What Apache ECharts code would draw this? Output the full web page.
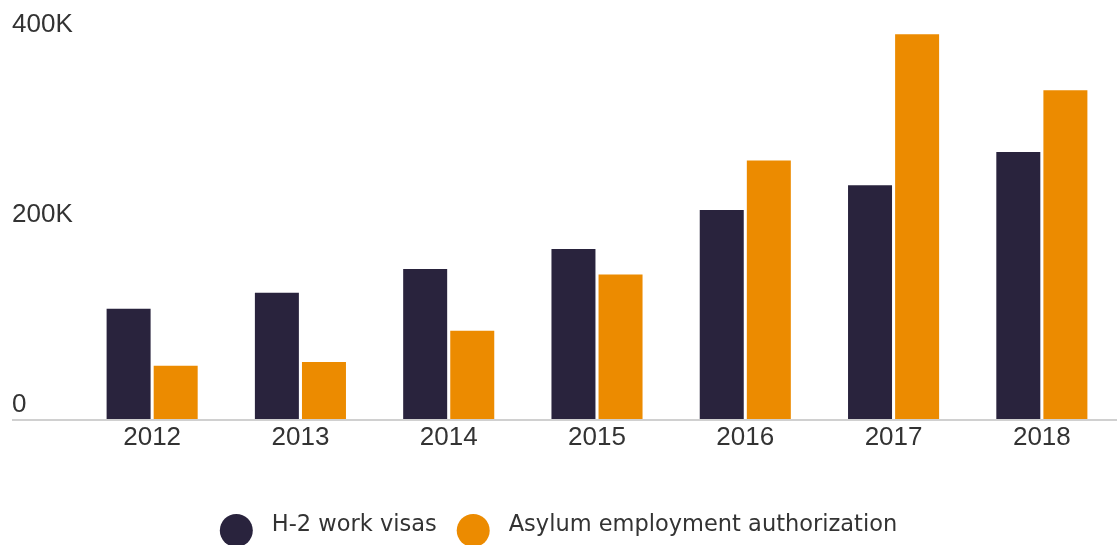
<!DOCTYPE html>
<html>
<head>
<meta charset="utf-8">
<script src="https://cdn.jsdelivr.net/npm/echarts@6/dist/echarts.min.js"></script>
<style>
html,body{margin:0;padding:0;background:#fff;}
#chart{width:1117px;height:545px;}
</style>
</head>
<body>
<div id="chart"></div>
<script>
var categories = ['2012', '2013', '2014', '2015', '2016', '2017', '2018'];
var h2WorkVisas = [116000, 133000, 158000, 179000, 220000, 246000, 281000];
var asylumEmployment = [56000, 60000, 93000, 152000, 272000, 405000, 346000];
var seriesNames = ['H-2 work visas', 'Asylum employment authorization'];

function fmtK(v) { return v === 0 ? '0' : (v / 1000) + 'K'; }

var chart = echarts.init(document.getElementById('chart'), null, { renderer: 'canvas' });
var option = {
  animation: false,
  backgroundColor: '#ffffff',
  grid: { left: 78, right: 1, top: 20, bottom: 126 },
  legend: {
    left: 'center',
    top: 509,
    icon: 'circle',
    itemWidth: 33,
    itemHeight: 33,
    itemGap: 20,
    formatter: '{a|{name}}',
    textStyle: {
      fontFamily: 'DejaVu Sans', fontSize: 22.5, color: '#333333', padding: [0, 0, 0, 14],
      rich: { a: { fontFamily: 'DejaVu Sans', fontSize: 22.5, color: '#333333', padding: [0, 0, 10, 0] } }
    },
    data: seriesNames
  },
  xAxis: {
    type: 'category',
    data: categories,
    axisLine: { show: false },
    axisTick: { show: false },
    axisLabel: { fontFamily: 'Liberation Sans', fontSize: 26, color: '#333333', margin: 6 }
  },
  yAxis: {
    type: 'value',
    min: 0,
    max: 420000,
    interval: 200000,
    splitLine: { show: false },
    axisLine: { show: false },
    axisTick: { show: false },
    axisLabel: {
      showMaxLabel: false,
      fontFamily: 'Liberation Sans', fontSize: 26, color: '#333333',
      align: 'left', margin: 66, verticalAlign: 'bottom', padding: [0, 0, 1, 0],
      formatter: fmtK
    }
  },
  series: [
    { name: seriesNames[0], type: 'bar', data: h2WorkVisas, barWidth: 44, barGap: '7%', itemStyle: { color: '#29233d' } },
    { name: seriesNames[1], type: 'bar', data: asylumEmployment, barWidth: 44, barGap: '7%', itemStyle: { color: '#ec8b00' } }
  ]
};
chart.setOption(option);
var y0 = chart.convertToPixel({ yAxisIndex: 0 }, 0);
chart.setOption({
  graphic: [{
    type: 'line', z: 0,
    shape: { x1: 12, y1: y0 + 1, x2: 1117, y2: y0 + 1 },
    style: { stroke: '#d0d0d0', lineWidth: 2 }
  }]
});
</script>
</body>
</html>
